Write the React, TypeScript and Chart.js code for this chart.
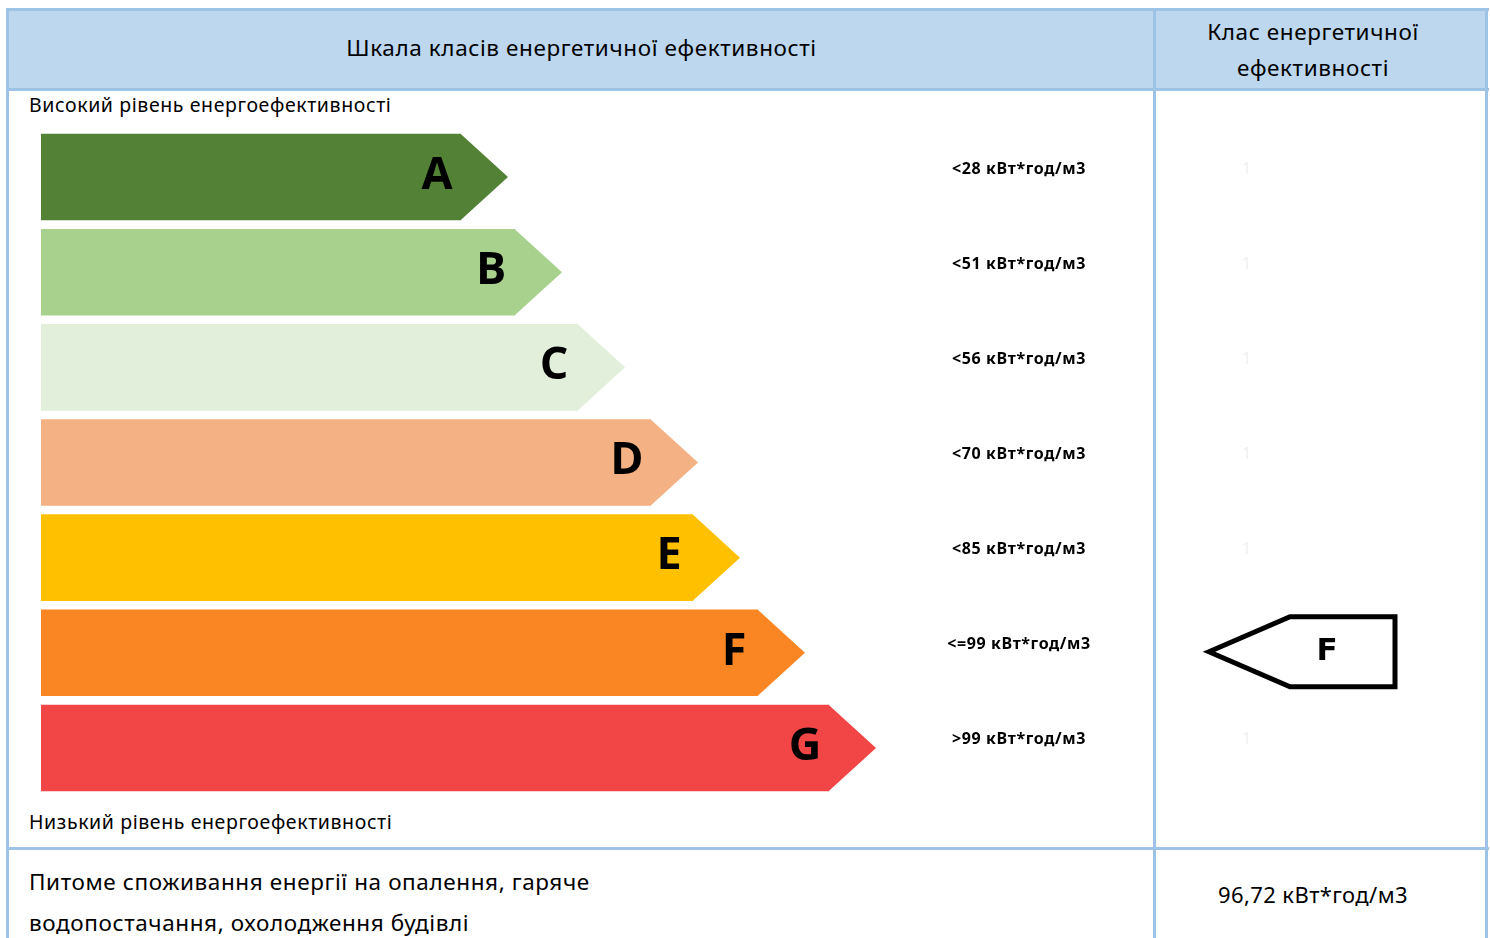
import React, { useEffect, useRef } from "react";
import { Chart, registerables } from "chart.js";

Chart.register(...registerables);

// ---- data ----
const classes = ["A", "B", "C", "D", "E", "F", "G"];
const arrowLengths = [42.0, 47.4, 53.7, 61.0, 65.2, 71.7, 78.8];
const thresholdLabels = [
  "<28 кВт*год/м3",
  "<51 кВт*год/м3",
  "<56 кВт*год/м3",
  "<70 кВт*год/м3",
  "<85 кВт*год/м3",
  "<=99 кВт*год/м3",
  ">99 кВт*год/м3",
];
const classColors = ["#538135", "#A9D18E", "#E2EFDA", "#F4B183", "#FFC000", "#F98623", "#F24545"];
const hiddenCellValues = ["1", "1", "1", "1", "1", "", "1"];
const selectedClass = "F";
const specificConsumption = "96,72 кВт*год/м3";

const headerLeft = "Шкала класів енергетичної ефективності";
const headerRight = ["Клас енергетичної", "ефективності"];
const topNote = "Високий рівень енергоефективності";
const bottomNote = "Низький рівень енергоефективності";
const footerText = ["Питоме споживання енергії на опалення, гаряче", "водопостачання, охолодження будівлі"];

const BORDER = "#9DC3E6";
const FONT = "'Noto Sans', 'Open Sans', sans-serif";

const arrowPlugin = {
  id: "energyArrows",
  afterDatasetsDraw(chart: any) {
    const ctx = chart.ctx;
    const meta = chart.getDatasetMeta(0);
    const yScale = chart.scales.y;
    const tip = 47;
    ctx.save();
    meta.data.forEach((bar: any, i: number) => {
      const { x, y, height } = bar.getProps(["x", "y", "height"], true);
      const top = y - height / 2;
      const bottom = y + height / 2;
      // arrow tip
      ctx.beginPath();
      ctx.moveTo(x - 0.5, top);
      ctx.lineTo(x + tip, y);
      ctx.lineTo(x - 0.5, bottom);
      ctx.closePath();
      ctx.fillStyle = classColors[i];
      ctx.fill();
      // class letter
      ctx.fillStyle = "#000";
      (ctx as any).letterSpacing = "0px";
      ctx.font = "bold 45px 'Open Sans', sans-serif";
      ctx.textAlign = "center";
      ctx.textBaseline = "middle";
      ctx.fillText(classes[i], x - 24, y - 1);
      // threshold label
      (ctx as any).letterSpacing = "0.6px";
      ctx.font = `bold 16px ${FONT}`;
      ctx.fillText(thresholdLabels[i], 1019, y - 8);
      // faint cell values
      if (hiddenCellValues[i]) {
        ctx.fillStyle = "#EFEFEF";
        ctx.font = `16px ${FONT}`;
        ctx.fillText(hiddenCellValues[i], 1247, y - 8);
      }
    });
    // selected class marker
    (ctx as any).letterSpacing = "0px";
    const idx = classes.indexOf(selectedClass);
    const my = yScale.getPixelForValue(idx) - 1;
    ctx.beginPath();
    ctx.moveTo(1209, my);
    ctx.lineTo(1290, my - 35);
    ctx.lineTo(1395, my - 35);
    ctx.lineTo(1395, my + 35);
    ctx.lineTo(1290, my + 35);
    ctx.closePath();
    ctx.lineWidth = 5;
    ctx.strokeStyle = "#000";
    ctx.lineJoin = "miter";
    ctx.stroke();
    ctx.fillStyle = "#000";
    ctx.font = "bold 31px 'DejaVu Sans', sans-serif";
    ctx.textAlign = "center";
    ctx.textBaseline = "middle";
    ctx.fillText(selectedClass, 1327, my);
    ctx.restore();
  },
};

function EnergyChart() {
  const ref = useRef<HTMLCanvasElement>(null);
  useEffect(() => {
    if (!ref.current) return;
    const chart = new Chart(ref.current, {
      type: "bar",
      data: {
        labels: classes,
        datasets: [
          {
            data: arrowLengths,
            backgroundColor: classColors,
            borderWidth: 0,
            barPercentage: 0.91,
            categoryPercentage: 1,
          },
        ],
      },
      options: {
        indexAxis: "y",
        animation: false,
        responsive: false,
        maintainAspectRatio: false,
        layout: { padding: { left: 41, right: 449, top: 38.5, bottom: 51.5 } },
        plugins: { legend: { display: false }, tooltip: { enabled: false } },
        scales: {
          x: { display: false, min: 0, max: 100 },
          y: { display: false },
        },
      },
      plugins: [arrowPlugin],
    } as any);
    return () => chart.destroy();
  }, []);
  return (
    <canvas
      ref={ref}
      width={1490}
      height={756}
      style={{ position: "absolute", left: 0, top: 91, width: 1490, height: 756 }}
    />
  );
}

const abs = (s: React.CSSProperties): React.CSSProperties => ({ position: "absolute", ...s });

export default function App() {
  return (
    <div style={abs({ left: 0, top: 0, width: 1490, height: 938, overflow: "hidden", background: "#fff", fontFamily: FONT, color: "#000", letterSpacing: "0.6px" })}>
      {/* header fill */}
      <div style={abs({ left: 9, top: 10, width: 1477, height: 79, background: "#BDD7EE" })} />
      {/* borders */}
      <div style={abs({ left: 6, top: 8, width: 1483, height: 3, background: BORDER })} />
      <div style={abs({ left: 6, top: 8, width: 3, height: 940, background: BORDER })} />
      <div style={abs({ left: 1485, top: 8, width: 3, height: 940, background: BORDER })} />
      <div style={abs({ left: 1153, top: 8, width: 3, height: 940, background: BORDER })} />
      <div style={abs({ left: 6, top: 88, width: 1483, height: 3, background: BORDER })} />
      <div style={abs({ left: 6, top: 847, width: 1483, height: 3, background: BORDER })} />

      {/* header texts */}
      <div style={abs({ left: 10, top: 30, width: 1143, textAlign: "center", fontSize: 22.5, lineHeight: "36px" })}>{headerLeft}</div>
      <div style={abs({ left: 1140, top: 14, width: 346, textAlign: "center", fontSize: 22.5, lineHeight: "36px" })}>
        {headerRight[0]}
        <br />
        {headerRight[1]}
      </div>

      <div style={abs({ left: 29, top: 91, fontSize: 19.5, lineHeight: "27px" })}>{topNote}</div>
      <div style={abs({ left: 29, top: 808, fontSize: 19.5, lineHeight: "27px" })}>{bottomNote}</div>

      <EnergyChart />

      {/* footer */}
      <div style={abs({ left: 29, top: 861, fontSize: 22.5, lineHeight: "41px" })}>
        {footerText[0]}
        <br />
        {footerText[1]}
      </div>
      <div style={abs({ left: 1140, top: 876, width: 346, textAlign: "center", fontSize: 22, lineHeight: "36px", letterSpacing: "0.4px" })}>{specificConsumption}</div>
    </div>
  );
}
